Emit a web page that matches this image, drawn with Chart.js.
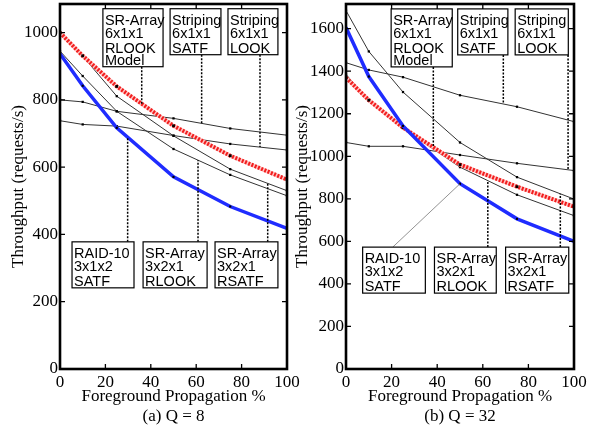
<!DOCTYPE html>
<html>
<head>
<meta charset="utf-8">
<script src="https://cdn.jsdelivr.net/npm/chart.js@4.4.1/dist/chart.umd.min.js"></script>
<style>
  html, body { margin: 0; padding: 0; background: #fff; }
  #wrap { position: relative; width: 596px; height: 431px; overflow: hidden; }
  canvas { position: absolute; top: 0; }
  #left { left: 0; }
  #right { left: 284px; }
</style>
</head>
<body>
<div id="wrap">
  <canvas id="left" width="300" height="431"></canvas>
  <canvas id="right" width="312" height="431"></canvas>
</div>
<script>
// foreground propagation (%) at which each configuration was measured
const propagation = [0, 10, 25, 50, 75, 100];
const xTicks = [0, 20, 40, 60, 80, 100];
const q8YTicks = [0, 200, 400, 600, 800, 1000];
const q32YTicks = [0, 200, 400, 600, 800, 1000, 1200, 1400, 1600];

const seriesNames = ['SR-Array 6x1x1 RLOOK Model', 'RAID-10 3x1x2 SATF', 'SR-Array 3x2x1 RSATF',
  'SR-Array 3x2x1 RLOOK', 'Striping 6x1x1 SATF', 'Striping 6x1x1 LOOK'];

// (a) Q = 8, throughput in requests/s
const q8Model = [1000, 931, 840, 723, 634, 563];
const q8Raid10 = [937, 842, 717, 571, 483, 418];
const q8SrRsatf = [1000, 930, 811, 693, 594, 530];
const q8SrRlook = [945, 871, 766, 654, 577, 515];
const q8StripeSatf = [800, 794, 766, 745, 715, 695];
const q8StripeLook = [738, 727, 722, 694, 669, 651];

// (b) Q = 32
const q32Model = [1370, 1264, 1135, 961, 857, 763];
const q32Raid10 = [1605, 1375, 1143, 871, 706, 600];
const q32SrRsatf = [1685, 1493, 1302, 1065, 902, 799];
const q32SrRlook = [1385, 1262, 1130, 949, 819, 721];
const q32StripeSatf = [1440, 1406, 1372, 1287, 1233, 1163];
const q32StripeLook = [1065, 1047, 1047, 1006, 967, 933];

const serif = '"Liberation Serif", "Times New Roman", serif';
const sans = '"Liberation Sans", Arial, sans-serif';

function pts(vals) {
  return propagation.map((p, i) => ({ x: p, y: vals[i] }));
}

function interp(data, xv) {
  for (let i = 1; i < data.length; i++) {
    if (xv <= data[i].x) {
      const a = data[i - 1], b = data[i];
      return a.y + (b.y - a.y) * (xv - a.x) / (b.x - a.x);
    }
  }
  return data[data.length - 1].y;
}

// chart.js paints the last dataset first, so the blue line goes first to end on top
function makeDatasets(series) {
  const thin = (name, vals) => ({
    label: name, data: pts(vals), borderColor: '#333', borderWidth: 1,
    pointStyle: 'rect', pointRadius: 1.6, pointBackgroundColor: '#000', pointBorderWidth: 0
  });
  return [
    { label: seriesNames[1], data: pts(series[1]), borderColor: '#1f2cff', borderWidth: 3.5,
      pointStyle: 'rect', pointRadius: 1.5, pointBackgroundColor: '#000', pointBorderWidth: 0 },
    { label: seriesNames[0], data: pts(series[0]), borderColor: '#f21e1e', borderWidth: 4, borderDash: [2, 1.5],
      pointStyle: 'rect', pointRadius: 2, pointBackgroundColor: '#000', pointBorderWidth: 0 },
    { label: 'model-under', data: pts(series[0]), borderColor: '#ffc4c4', borderWidth: 4, pointRadius: 0 },
    thin(seriesNames[2], series[2]),
    thin(seriesNames[3], series[3]),
    thin(seriesNames[4], series[4]),
    thin(seriesNames[5], series[5])
  ];
}

const framePlugin = {
  id: 'frame',
  afterDraw(chart) {
    const { ctx, chartArea: a, scales: { x, y } } = chart;
    ctx.save();
    ctx.strokeStyle = '#000';
    ctx.lineWidth = 1.3;
    ctx.beginPath();
    x.ticks.forEach(t => {
      const px = x.getPixelForValue(t.value);
      ctx.moveTo(px, a.bottom); ctx.lineTo(px, a.bottom - 5);
      ctx.moveTo(px, a.top); ctx.lineTo(px, a.top + 5);
    });
    y.ticks.forEach(t => {
      const py = y.getPixelForValue(t.value);
      ctx.moveTo(a.left, py); ctx.lineTo(a.left + 5, py);
      ctx.moveTo(a.right, py); ctx.lineTo(a.right - 5, py);
    });
    ctx.stroke();
    ctx.lineWidth = 2.6;
    ctx.strokeRect(a.left, a.top, a.right - a.left, a.bottom - a.top);
    ctx.restore();
  }
};

const notePlugin = {
  id: 'notes',
  afterDatasetsDraw(chart, args, opts) {
    const { ctx, scales: { x, y } } = chart;
    ctx.save();
    opts.notes.forEach(n => {
      const ds = chart.data.datasets.find(d => d.label === n.target);
      const bx0 = x.getPixelForValue(n.x0), bx1 = x.getPixelForValue(n.x1);
      const by0 = y.getPixelForValue(n.top);
      const h = n.text.length === 4 ? 58 : 46;
      const tv = interp(ds.data, n.lead);
      const ty = y.getPixelForValue(tv);
      const edge = ty > by0 ? by0 + h : by0;
      ctx.beginPath();
      if (n.from !== undefined) {
        ctx.strokeStyle = '#777';
        ctx.lineWidth = 0.8;
        ctx.setLineDash([]);
        ctx.moveTo(x.getPixelForValue(n.from), edge);
      } else {
        ctx.strokeStyle = '#000';
        ctx.lineWidth = 1.5;
        ctx.setLineDash([2, 1.5]);
        ctx.moveTo(x.getPixelForValue(n.lead), edge);
      }
      ctx.lineTo(x.getPixelForValue(n.lead), ty);
      ctx.stroke();
      ctx.setLineDash([]);
      ctx.fillStyle = '#fff';
      ctx.fillRect(bx0, by0, bx1 - bx0, h);
      ctx.strokeStyle = '#000';
      ctx.lineWidth = 1.2;
      ctx.strokeRect(bx0, by0, bx1 - bx0, h);
      ctx.fillStyle = '#000';
      ctx.font = '14.5px ' + sans;
      ctx.textBaseline = 'alphabetic';
      const offs = [16, 29, 44, 56.5];
      n.text.forEach((t, i) => ctx.fillText(t, bx0 + 2, by0 + offs[i]));
    });
    ctx.restore();
  }
};

function makeChart(id, series, yMax, yTicks, caption, yWidth, padRight, notes) {
  return new Chart(document.getElementById(id), {
    type: 'line',
    data: { datasets: makeDatasets(series) },
    plugins: [notePlugin, framePlugin],
    options: {
      responsive: false,
      animation: false,
      layout: { padding: { top: 1, right: padRight, bottom: 0, left: 0 } },
      plugins: {
        legend: { display: false },
        tooltip: { enabled: false },
        notes: { notes: notes }
      },
      scales: {
        x: {
          type: 'linear', min: 0, max: 100,
          afterBuildTicks: s => { s.ticks = xTicks.map(v => ({ value: v })); },
          afterFit: s => { s.height = 62; s.paddingLeft = 0; s.paddingRight = 0; },
          grid: { display: false, drawTicks: false },
          border: { display: false },
          ticks: { padding: 3, color: '#000', font: { family: serif, size: 17 }, maxRotation: 0,
            callback: v => String(v) },
          title: {
            display: true, text: ['Foreground Propagation %', caption], color: '#000',
            font: { family: serif, size: 17, lineHeight: 1.15 }, padding: { top: 0, bottom: 5 }
          }
        },
        y: {
          min: 0, max: yMax,
          afterBuildTicks: s => { s.ticks = yTicks.map(v => ({ value: v })); },
          afterFit: s => { s.width = yWidth; s.paddingTop = 0; s.paddingBottom = 0; },
          grid: { display: false, drawTicks: false },
          border: { display: false },
          ticks: { padding: 2, color: '#000', font: { family: serif, size: 17 }, callback: v => String(v) },
          title: {
            display: true, text: 'Throughput (requests/s)', color: '#000',
            font: { family: serif, size: 17 }, padding: { top: 8, bottom: 0 }
          }
        }
      }
    }
  });
}

const q8Notes = [
  { text: ['SR-Array', '6x1x1', 'RLOOK', 'Model'], x0: 18.9, x1: 45.4, top: 1071, lead: 36, target: seriesNames[0] },
  { text: ['Striping', '6x1x1', 'SATF'], x0: 48.5, x1: 70.9, top: 1071, lead: 62.4, target: seriesNames[4] },
  { text: ['Striping', '6x1x1', 'LOOK'], x0: 74.0, x1: 96.0, top: 1071, lead: 88.1, target: seriesNames[5] },
  { text: ['RAID-10', '3x1x2', 'SATF'], x0: 5.3, x1: 32.6, top: 378, lead: 29.8, target: seriesNames[1] },
  { text: ['SR-Array', '3x2x1', 'RLOOK'], x0: 36.6, x1: 64.8, top: 378, lead: 60.8, target: seriesNames[3] },
  { text: ['SR-Array', '3x2x1', 'RSATF'], x0: 68.3, x1: 96.0, top: 378, lead: 91.5, target: seriesNames[2] }
];

const q32Notes = [
  { text: ['SR-Array', '6x1x1', 'RLOOK', 'Model'], x0: 19.8, x1: 46.6, top: 1693, lead: 38.3, target: seriesNames[0] },
  { text: ['Striping', '6x1x1', 'SATF'], x0: 49.0, x1: 71.0, top: 1693, lead: 69.0, target: seriesNames[4] },
  { text: ['Striping', '6x1x1', 'LOOK'], x0: 74.2, x1: 97.5, top: 1693, lead: 97.4, target: seriesNames[5] },
  { text: ['RAID-10', '3x1x2', 'SATF'], x0: 7.3, x1: 34.8, top: 573, from: 20.5, lead: 50, target: seriesNames[1] },
  { text: ['SR-Array', '3x2x1', 'RLOOK'], x0: 38.8, x1: 65.9, top: 573, lead: 62.2, target: seriesNames[3] },
  { text: ['SR-Array', '3x2x1', 'RSATF'], x0: 70.0, x1: 97.7, top: 573, lead: 94, target: seriesNames[2] }
];

makeChart('left', [q8Model, q8Raid10, q8SrRsatf, q8SrRlook, q8StripeSatf, q8StripeLook],
  1085, q8YTicks, '(a) Q = 8', 60, 13, q8Notes);
makeChart('right', [q32Model, q32Raid10, q32SrRsatf, q32SrRlook, q32StripeSatf, q32StripeLook],
  1716, q32YTicks, '(b) Q = 32', 62, 22, q32Notes);
</script>
</body>
</html>
